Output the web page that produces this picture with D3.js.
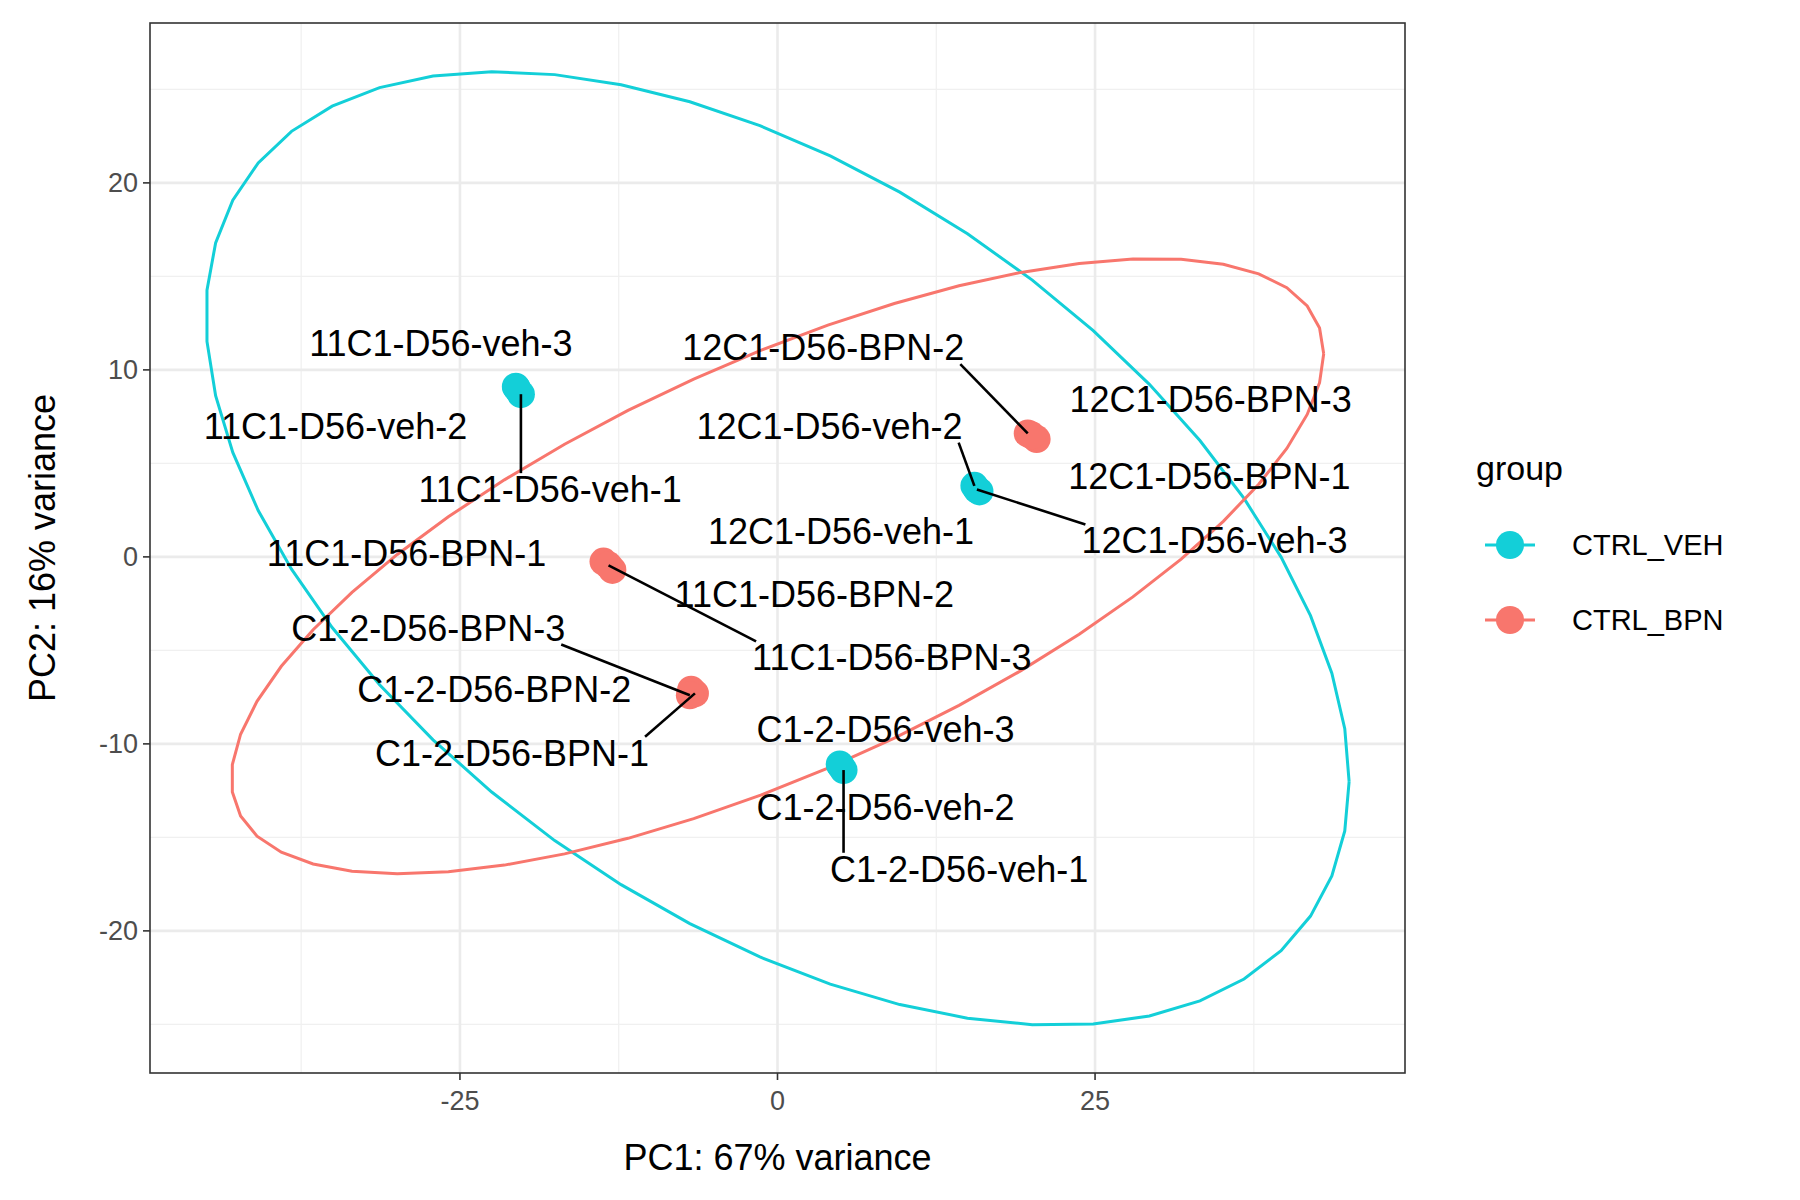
<!DOCTYPE html>
<html><head><meta charset="utf-8">
<script src="https://cdn.jsdelivr.net/npm/d3@7"></script>
<style>body{margin:0;background:#fff}text{font-family:"Liberation Sans",Arial,sans-serif}</style>
</head><body><svg id="c" width="1800" height="1200"></svg>
<script>
// samples
var sampleNames = ["11C1-D56-veh-1","11C1-D56-veh-2","11C1-D56-veh-3","12C1-D56-veh-1","12C1-D56-veh-2","12C1-D56-veh-3",
  "C1-2-D56-veh-1","C1-2-D56-veh-2","C1-2-D56-veh-3","11C1-D56-BPN-1","11C1-D56-BPN-2","11C1-D56-BPN-3",
  "12C1-D56-BPN-1","12C1-D56-BPN-2","12C1-D56-BPN-3","C1-2-D56-BPN-1","C1-2-D56-BPN-2","C1-2-D56-BPN-3"];
var sampleGroup = ["CTRL_VEH","CTRL_VEH","CTRL_VEH","CTRL_VEH","CTRL_VEH","CTRL_VEH","CTRL_VEH","CTRL_VEH","CTRL_VEH",
  "CTRL_BPN","CTRL_BPN","CTRL_BPN","CTRL_BPN","CTRL_BPN","CTRL_BPN","CTRL_BPN","CTRL_BPN","CTRL_BPN"];
var pc1 = [-20.2,-20.6,-20.5, 15.9,15.5,15.7, 5.2,4.9,5.0, -13.7,-13.0,-13.3, 20.4,19.7,20.0, -6.5,-6.8,-6.9];
var pc2 = [8.7,9.1,9.0, 3.5,3.8,3.6, -11.4,-11.1,-11.2, -0.25,-0.7,-0.45, 6.3,6.6,6.5, -7.3,-7.1,-7.4];
// repelled label positions (data units) and whether a segment is drawn
var labelX = [-17.9,-34.8,-26.5, 5.0,4.1,34.4, 14.3,8.5,8.5, -29.2,2.9,9.0, 34.0,3.6,34.1, -20.9,-22.3,-27.5];
var labelY = [3.6,7.0,11.4, 1.36,7.0,0.86, -16.7,-13.4,-9.2, 0.19,-2.0,-5.4, 4.3,11.2,8.4, -10.5,-7.1,-3.8];
var hasSegment = [1,0,0, 0,1,1, 1,0,0, 0,0,1, 0,1,0, 1,0,1];
// ellipse centre and covariance-like shape per group
var groups = ["CTRL_VEH","CTRL_BPN"];
var groupColors = ["#13CFD8","#F8766D"];
var ellCenter = [[0,0.45],[0,-0.5]];
var ellSigma = [[2025,-561,650],[1849,488.6,270.6]]; // xx, xy, yy
var xTicks = [-25,0,25], yTicks = [-20,-10,0,10,20];

var svg = d3.select("#c");
var L = 150, R = 1405, T = 23, B = 1073;
var x = d3.scaleLinear().domain([-49.4,49.4]).range([L,R]);
var y = d3.scaleLinear().domain([-27.6,28.55]).range([B,T]);
var color = d3.scaleOrdinal().domain(groups).range(groupColors);

// grid
var g = svg.append("g");
var xMinor = [-37.5,-12.5,12.5,37.5], yMinor = [-25,-15,-5,5,15,25];
g.selectAll(".xm").data(xMinor).enter().append("line").attr("x1",x).attr("x2",x).attr("y1",T).attr("y2",B).attr("stroke","#f0f0f0").attr("stroke-width",1.3);
g.selectAll(".ym").data(yMinor).enter().append("line").attr("y1",y).attr("y2",y).attr("x1",L).attr("x2",R).attr("stroke","#f0f0f0").attr("stroke-width",1.3);
g.selectAll(".xg").data(xTicks).enter().append("line").attr("x1",x).attr("x2",x).attr("y1",T).attr("y2",B).attr("stroke","#ebebeb").attr("stroke-width",2.6);
g.selectAll(".yg").data(yTicks).enter().append("line").attr("y1",y).attr("y2",y).attr("x1",L).attr("x2",R).attr("stroke","#ebebeb").attr("stroke-width",2.6);

// ellipses
svg.append("clipPath").attr("id","pc").append("rect").attr("x",L).attr("y",T).attr("width",R-L).attr("height",B-T);
groups.forEach(function (grp, k) {
    var s = ellSigma[k], l11 = Math.sqrt(s[0]), l21 = s[1]/l11, l22 = Math.sqrt(s[2]-l21*l21);
    var pts = d3.range(0, 52).map(function (i) {
        var t = i/51*2*Math.PI, u = Math.cos(t), v = Math.sin(t);
        return [x(ellCenter[k][0] + l11*u), y(ellCenter[k][1] + l21*u + l22*v)];
    });
    svg.append("path").attr("d", d3.line()(pts)).attr("fill","none")
        .attr("stroke", color(grp)).attr("stroke-width",3).attr("clip-path","url(#pc)");
});

// points
svg.selectAll(".pt").data(pc1).enter().append("circle")
    .attr("cx", function (d) { return x(d); })
    .attr("cy", function (d, i) { return y(pc2[i]); })
    .attr("r", 14).attr("fill", function (d, i) { return color(sampleGroup[i]); });

// labels + segments
var labels = svg.selectAll(".lb").data(sampleNames).enter().append("text")
    .attr("x", function (d, i) { return x(labelX[i]); })
    .attr("y", function (d, i) { return y(labelY[i]); })
    .attr("dy","0.35em").attr("text-anchor","middle").attr("font-size",36).attr("fill","#000")
    .text(function (d) { return d; });
labels.each(function (d, i) {
    if (!hasSegment[i]) return;
    var b = this.getBBox(), px = x(pc1[i]), py = y(pc2[i]);
    var ex = Math.max(b.x+4, Math.min(px, b.x+b.width-4)), ey = Math.max(b.y+4, Math.min(py, b.y+b.height-4));
    svg.insert("line", "text").attr("x1",px).attr("y1",py).attr("x2",ex).attr("y2",ey)
        .attr("stroke","#000").attr("stroke-width",2.6);
});

// panel border
svg.append("rect").attr("x",L).attr("y",T).attr("width",R-L).attr("height",B-T)
    .attr("fill","none").attr("stroke","#333").attr("stroke-width",1.6);

// axes
svg.selectAll(".xt").data(xTicks).enter().append("line").attr("x1",x).attr("x2",x).attr("y1",B).attr("y2",B+7).attr("stroke","#333").attr("stroke-width",1.6);
svg.selectAll(".xl").data(xTicks).enter().append("text").attr("x",x).attr("y",B+37).attr("text-anchor","middle")
    .attr("font-size",27).attr("fill","#4d4d4d").text(function (d) { return d; });
svg.selectAll(".yt").data(yTicks).enter().append("line").attr("y1",y).attr("y2",y).attr("x1",L-7).attr("x2",L).attr("stroke","#333").attr("stroke-width",1.6);
svg.selectAll(".yl").data(yTicks).enter().append("text").attr("x",L-12).attr("y",y).attr("dy","0.35em").attr("text-anchor","end")
    .attr("font-size",27).attr("fill","#4d4d4d").text(function (d) { return d; });
svg.append("text").attr("x",(L+R)/2).attr("y",1170).attr("text-anchor","middle").attr("font-size",36).text("PC1: 67% variance");
svg.append("text").attr("transform","translate(55," + (T+B)/2 + ") rotate(-90)").attr("text-anchor","middle").attr("font-size",36).text("PC2: 16% variance");

// legend
svg.append("text").attr("x",1476).attr("y",480).attr("font-size",34).text("group");
groups.forEach(function (grp, k) {
    var ly = 545 + k*75;
    svg.append("line").attr("x1",1485).attr("x2",1535).attr("y1",ly).attr("y2",ly).attr("stroke",color(grp)).attr("stroke-width",3);
    svg.append("circle").attr("cx",1510).attr("cy",ly).attr("r",14).attr("fill",color(grp));
    svg.append("text").attr("x",1572).attr("y",ly).attr("dy","0.35em").attr("font-size",29).text(grp);
});
</script></body></html>
